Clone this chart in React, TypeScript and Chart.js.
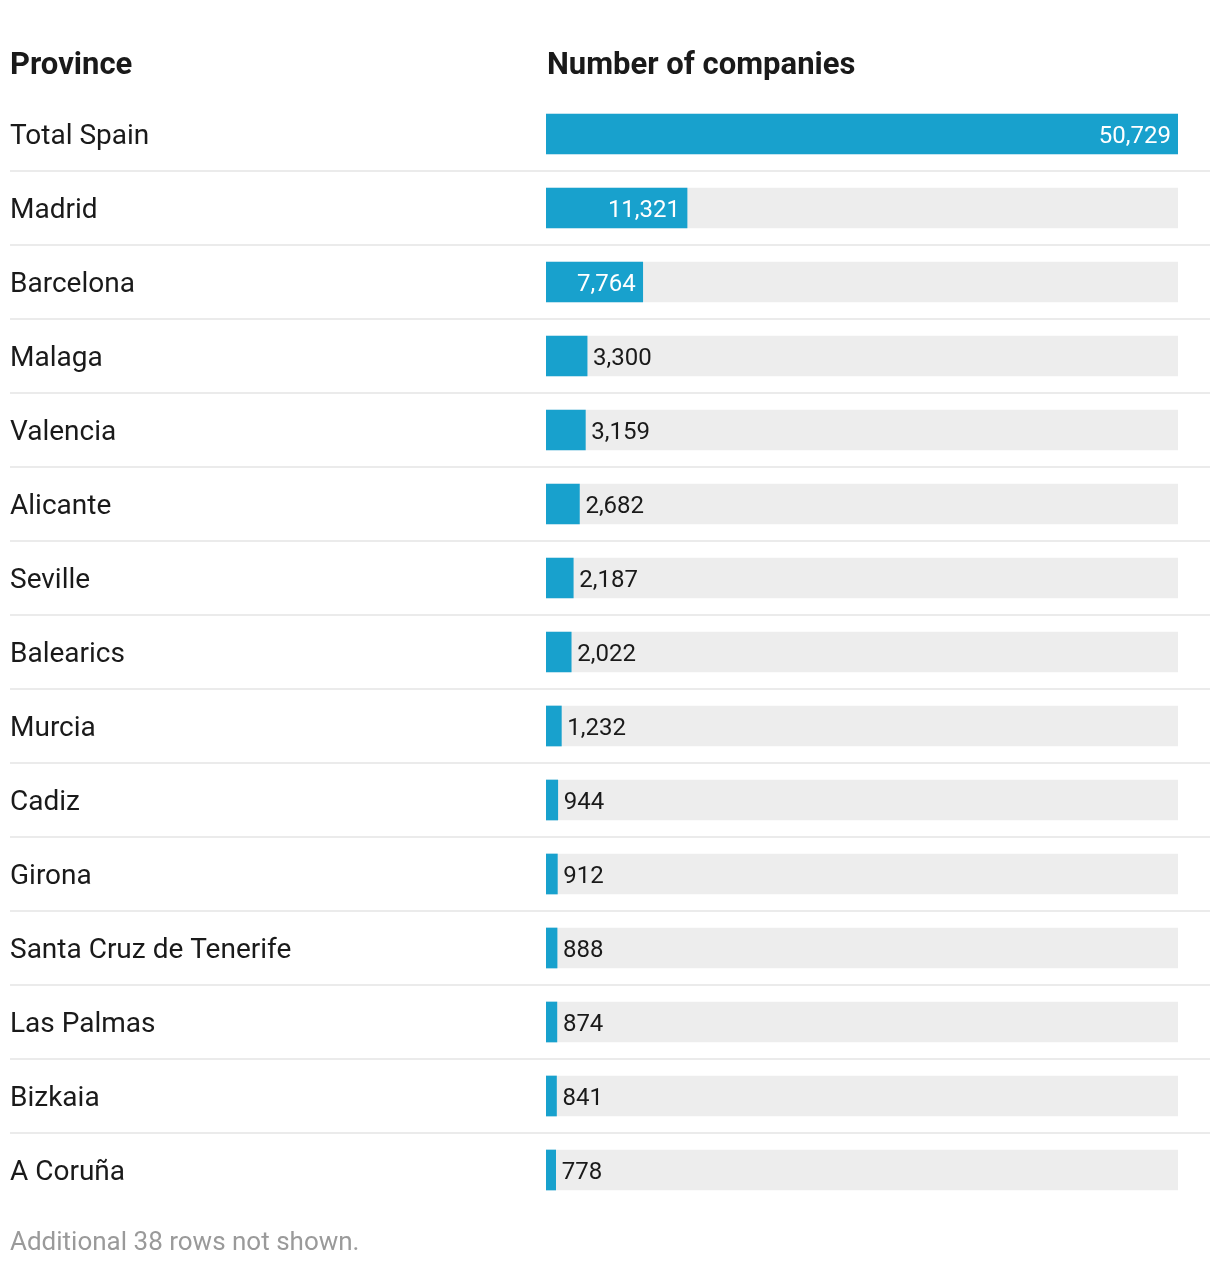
import React, { useEffect, useRef } from "react";
import { Chart, registerables } from "chart.js";

Chart.register(...registerables);

const provinces = [
  "Total Spain",
  "Madrid",
  "Barcelona",
  "Malaga",
  "Valencia",
  "Alicante",
  "Seville",
  "Balearics",
  "Murcia",
  "Cadiz",
  "Girona",
  "Santa Cruz de Tenerife",
  "Las Palmas",
  "Bizkaia",
  "A Coruña",
];

const companies = [50729, 11321, 7764, 3300, 3159, 2682, 2187, 2022, 1232, 944, 912, 888, 874, 841, 778];

const columnHeaders = ["Province", "Number of companies"];
const footerNote = "Additional 38 rows not shown.";

const BLUE = "#18a1cd";
const TRACK = "#ededed";
const FONT = "Roboto, 'Noto Sans', sans-serif";

export default function App() {
  const ref = useRef<HTMLCanvasElement | null>(null);

  useEffect(() => {
    document.body.style.margin = "0";
    const canvas = ref.current;
    if (!canvas) return;
    const maxVal = companies[0];

    const tablePlugin = {
      id: "tablePlugin",
      beforeDatasetsDraw(chart: any) {
        const ctx = chart.ctx;
        const yScale = chart.scales.y;
        ctx.save();
        ctx.fillStyle = "#ebebeb";
        for (let i = 0; i < provinces.length - 1; i++) {
          const yc = yScale.getPixelForValue(i);
          const yn = yScale.getPixelForValue(i + 1);
          const ym = Math.round((yc + yn) / 2);
          ctx.fillRect(10, ym - 1, 1200, 2);
        }
        ctx.restore();
      },
      afterDraw(chart: any) {
        const ctx = chart.ctx;
        const yScale = chart.scales.y;
        const xScale = chart.scales.x;
        ctx.save();
        ctx.textBaseline = "alphabetic";
        // headers
        ctx.fillStyle = "#1a1a1a";
        ctx.font = `bold 31px ${FONT}`;
        ctx.textAlign = "left";
        ctx.fillText(columnHeaders[0], 10, 74);
        ctx.fillText(columnHeaders[1], chart.chartArea.left + 1, 74);
        // rows
        provinces.forEach((p, i) => {
          const yc = yScale.getPixelForValue(i);
          ctx.font = `28px ${FONT}`;
          ctx.fillStyle = "#1a1a1a";
          ctx.textAlign = "left";
          ctx.fillText(p, 10, yc + 10);

          const v = companies[i];
          const label = v.toLocaleString("en-US");
          ctx.font = `24px ${FONT}`;
          const xEnd = xScale.getPixelForValue(v);
          const w = ctx.measureText(label).width;
          const x0 = xScale.getPixelForValue(0);
          if (xEnd - x0 > w + 14) {
            ctx.fillStyle = "#ffffff";
            ctx.textAlign = "right";
            ctx.fillText(label, xEnd - 7, yc + 8.5);
          } else {
            ctx.fillStyle = "#1a1a1a";
            ctx.textAlign = "left";
            ctx.fillText(label, xEnd + 6, yc + 8.5);
          }
        });
        // footer
        ctx.font = `26px ${FONT}`;
        ctx.fillStyle = "#9a9a9a";
        ctx.textAlign = "left";
        ctx.fillText(footerNote, 10, 1250);
        ctx.restore();
      },
    };

    const chart = new Chart(canvas, {
      type: "bar",
      data: {
        labels: provinces,
        datasets: [
          {
            data: companies,
            backgroundColor: BLUE,
            barThickness: 40,
            grouped: false,
            borderWidth: 0,
          } as any,
          {
            data: companies.map(() => maxVal),
            backgroundColor: TRACK,
            barThickness: 40,
            grouped: false,
            borderWidth: 0,
          } as any,
        ],
      },
      options: {
        indexAxis: "y",
        animation: false,
        responsive: false,
        maintainAspectRatio: false,
        layout: { padding: { left: 546, right: 42, top: 97, bottom: 59 } },
        plugins: { legend: { display: false }, tooltip: { enabled: false } },
        scales: {
          x: { display: false, min: 0, max: maxVal },
          y: { display: false },
        },
      },
      plugins: [tablePlugin],
    });
    return () => chart.destroy();
  }, []);

  return (
    <div style={{ width: 1220, height: 1266 }}>
      <canvas ref={ref} width={1220} height={1266} style={{ display: "block" }} />
    </div>
  );
}
